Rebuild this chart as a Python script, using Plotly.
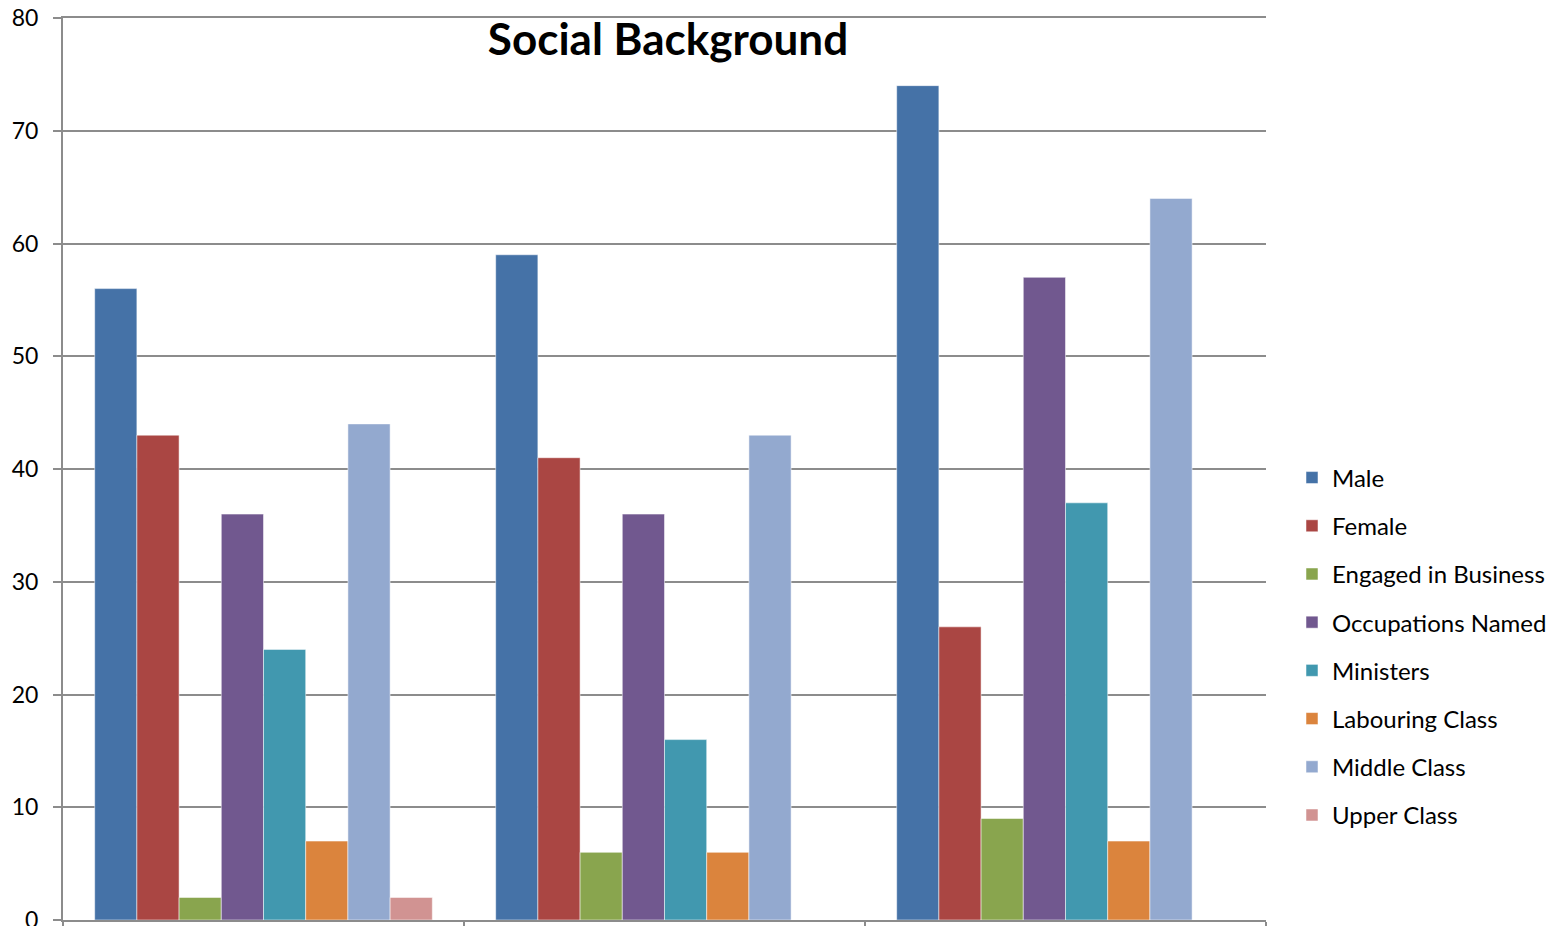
import plotly.graph_objects as go

# Three cohorts; category names are kept for hover only
groups = ["Group 1", "Group 2", "Group 3"]

series_names = [
    "Male", "Female", "Engaged in Business", "Occupations Named",
    "Ministers", "Labouring Class", "Middle Class", "Upper Class",
]

male = [56, 59, 74]
female = [43, 41, 26]
engaged_in_business = [2, 6, 9]
occupations_named = [36, 36, 57]
ministers = [24, 16, 37]
labouring_class = [7, 6, 7]
middle_class = [44, 43, 64]
upper_class = [2, 0, 0]

series_values = [
    male, female, engaged_in_business, occupations_named,
    ministers, labouring_class, middle_class, upper_class,
]

colors = [
    "#4572A7", "#AA4643", "#89A54E", "#71588F",
    "#4198AF", "#DB843D", "#93A9CF", "#D19392",
]

FONT = "Lato"

fig = go.Figure()
for name, vals, col in zip(series_names, series_values, colors):
    fig.add_trace(go.Bar(
        name=name, x=groups, y=vals,
        marker=dict(color=col, line=dict(color="rgba(255,255,255,0.5)", width=1)),
        legendgroup=name,
    ))

fig.update_layout(
    width=1566, height=926,
    barmode="group", bargap=0.158, bargroupgap=0,
    plot_bgcolor="white", paper_bgcolor="white",
    margin=dict(l=63, r=300, t=18, b=6, autoexpand=False),
    font=dict(family=FONT, size=23, color="black"),
    title=dict(
        text="<b>Social Background</b>",
        font=dict(family=FONT, size=44, color="black"),
        x=(668 / 1566), xanchor="center", xref="container",
        y=1 - 40 / 926, yanchor="middle", yref="container",
    ),
    legend=dict(
        xref="container", x=1292 / 1566, xanchor="left",
        y=0.515, yanchor="top",
        font=dict(family=FONT, size=24, color="black"),
        tracegroupgap=14, itemwidth=30,
        bgcolor="rgba(0,0,0,0)",
    ),
    showlegend=True,
)

fig.update_yaxes(
    range=[0, 80], dtick=10,
    showgrid=True, gridcolor="#8C8C8C", gridwidth=2,
    showline=True, linecolor="#8C8C8C", linewidth=2,
    ticks="outside", ticklen=8, tickcolor="#8C8C8C", tickwidth=2,
    ticklabelstandoff=10, ticklabeloverflow="allow",
    zeroline=False, automargin=False,
    tickfont=dict(family=FONT, size=23, color="black"),
)

fig.update_xaxes(
    showline=True, linecolor="#8C8C8C", linewidth=2, mirror=True,
    ticks="outside", tickson="boundaries", ticklen=6,
    tickcolor="#8C8C8C", tickwidth=2,
    showticklabels=False, showgrid=False, automargin=False,
)

fig.write_html("out.html")
